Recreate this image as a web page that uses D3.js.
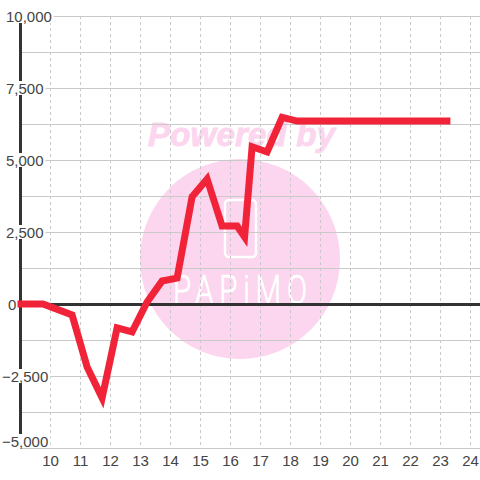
<!DOCTYPE html>
<html>
<head>
<meta charset="utf-8">
<script src="https://cdn.jsdelivr.net/npm/d3@7"></script>
<style>
  html, body { margin: 0; padding: 0; background: #fff; }
  text { font-family: "Liberation Sans", Arial, sans-serif; }
</style>
</head>
<body>
<div id="chart"></div>
<script>
// values
const hours = [8.9, 9.75, 10.72, 11.22, 11.72, 12.22, 12.72, 13.22, 13.72, 14.22, 14.72, 15.22, 15.72, 16.22, 16.47, 16.72, 17.22, 17.72, 18.22, 18.72, 19.22, 19.72, 20.22, 20.72, 21.22, 21.72, 22.22, 22.72, 23.33];
const balance = [0, 0, -380, -2190, -3260, -830, -970, 70, 800, 900, 3720, 4340, 2710, 2710, 2330, 5460, 5280, 6480, 6350, 6350, 6350, 6350, 6350, 6350, 6350, 6350, 6350, 6350, 6350];
const yTicks = [10000, 7500, 5000, 2500, 0, -2500, -5000];
const yMinorTicks = [8750, 6250, 3750, 1250, -1250, -3750];
const xTicks = [10, 11, 12, 13, 14, 15, 16, 17, 18, 19, 20, 21, 22, 23, 24];

const width = 480, height = 480;
const margin = { left: 20, top: 16, bottom: 32 };
const gridColor = "#c9c9c9";
const pink = "#fcd5ee";

const x = d3.scaleLinear().domain([9, 24]).range([margin.left + 0.5, 470.5]);
const y = d3.scaleLinear().domain([-5000, 10000]).range([height - margin.bottom, margin.top]);

const svg = d3.select("#chart").append("svg")
    .attr("width", width)
    .attr("height", height)
    .style("display", "block");

// watermark sits under the grid
const mark = svg.append("g");
mark.append("text")
    .attr("x", 148).attr("y", 146)
    .attr("textLength", 187)
    .attr("lengthAdjust", "spacing")
    .style("font-size", "33px")
    .style("font-weight", "bold")
    .style("font-style", "italic")
    .style("fill", pink)
    .style("stroke", pink)
    .style("stroke-width", 0.8)
    .text("Powered by");
mark.append("circle")
    .attr("cx", 240).attr("cy", 259).attr("r", 100)
    .style("fill", pink);
mark.append("rect")
    .attr("x", 225).attr("y", 200).attr("width", 31).attr("height", 57).attr("rx", 4)
    .style("fill", "none").style("stroke", "#fff").style("stroke-width", 2.5);
mark.append("text")
    .attr("transform", "translate(173,304) scale(0.72,1)")
    .attr("textLength", 186)
    .attr("lengthAdjust", "spacing")
    .style("font-family", "Roboto, sans-serif")
    .style("font-size", "41px")
    .style("font-weight", 300)
    .style("fill", "#fff")
    .style("stroke", "#fff")
    .style("stroke-width", 0.7)
    .text("PAPiMO");

// horizontal grid
svg.append("g").selectAll("line")
    .data(yTicks.concat(yMinorTicks).filter(d => d !== 0))
    .join("line")
    .attr("x1", x(9)).attr("x2", width)
    .attr("y1", d => Math.round(y(d)) + 0.5)
    .attr("y2", d => Math.round(y(d)) + 0.5)
    .style("stroke", gridColor);

// vertical dotted grid
svg.append("g").selectAll("line")
    .data(xTicks)
    .join("line")
    .attr("x1", d => x(d)).attr("x2", d => x(d))
    .attr("y1", y(10000)).attr("y2", y(-5000))
    .style("stroke", gridColor)
    .style("stroke-dasharray", "3,3");

// axes
svg.append("line")
    .attr("x1", x(9)).attr("x2", x(9))
    .attr("y1", y(10000)).attr("y2", y(-5000))
    .style("stroke", "#333").style("stroke-width", 3);
svg.append("line")
    .attr("x1", x(9)).attr("x2", width)
    .attr("y1", y(0) + 0.5).attr("y2", y(0) + 0.5)
    .style("stroke", "#333").style("stroke-width", 3);

// y labels have a white box behind them, it cuts the axis and grid
// the bottom one is pushed up to stay clear of the x labels
const yLabels = svg.append("g").selectAll("g")
    .data(yTicks)
    .join("g")
    .attr("transform", d => `translate(${d < 0 ? 2 : d === 0 ? 8 : 6},${y(d) + (d === -5000 ? -1 : 6)})`);
yLabels.append("text")
    .style("font-size", "15px")
    .style("fill", "#444")
    .text(d => d3.format(",")(d));
yLabels.each(function() {
    const g = d3.select(this);
    const b = g.select("text").node().getBBox();
    g.insert("rect", "text")
        .attr("x", b.x - 1).attr("y", -13)
        .attr("width", b.width + 3).attr("height", 14)
        .style("fill", "#fff");
});

// x labels
svg.append("g").selectAll("text")
    .data(xTicks)
    .join("text")
    .attr("x", d => x(d))
    .attr("y", 466)
    .attr("text-anchor", "middle")
    .style("font-size", "15px")
    .style("fill", "#444")
    .text(d => d);

// balance line
const line = d3.line().x((d, i) => x(hours[i])).y(d => y(d));
svg.append("path")
    .datum(balance)
    .attr("d", line)
    .style("fill", "none")
    .style("stroke", "#f02339")
    .style("stroke-width", 7)
    .style("stroke-linejoin", "miter");
</script>
</body>
</html>
